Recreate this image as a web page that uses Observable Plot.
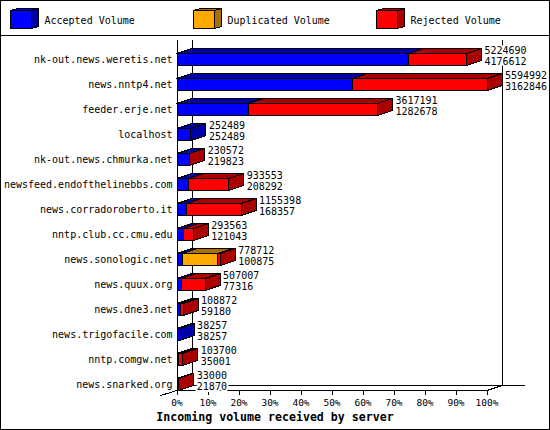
<!DOCTYPE html>
<html>
<head>
<meta charset="utf-8">
<script src="https://cdn.jsdelivr.net/npm/d3@7"></script>
<script src="https://cdn.jsdelivr.net/npm/@observablehq/plot@0.6"></script>
<style>
  html, body { margin: 0; padding: 0; background: #fff; }
  #box { position: relative; width: 550px; height: 430px; background: #fff; outline: 1px solid #000; outline-offset: -1px; overflow: hidden;
         font-family: "DejaVu Sans Mono", monospace; color: #000; }
  #legend { position: absolute; left: 0; top: 0; width: 550px; height: 36px; box-sizing: border-box; border-bottom: 1px solid #000; }
  .lg { position: absolute; top: 8px; height: 22px; }
  .lg svg { position: absolute; left: 0; top: 0; shape-rendering: crispEdges; }
  .lg span { position: absolute; left: 34.5px; top: 7px; font-size: 10px; line-height: 12px; white-space: nowrap; }
  #chart { position: absolute; left: 0; top: 36px; }
  #chart svg { background: transparent; overflow: visible; }
  #caption { position: absolute; left: 0; width: 550px; top: 410px; text-align: center; font-weight: bold; font-size: 11.6px; line-height: 14px; }
</style>
</head>
<body>
<div id="box">
  <div id="legend"></div>
  <div id="chart"></div>
  <div id="caption"></div>
</div>
<script>
const servers = ["nk-out.news.weretis.net","news.nntp4.net","feeder.erje.net","localhost","nk-out.news.chmurka.net","newsfeed.endofthelinebbs.com","news.corradoroberto.it","nntp.club.cc.cmu.edu","news.sonologic.net","news.quux.org","news.dne3.net","news.trigofacile.com","nntp.comgw.net","news.snarked.org"];
const totalVolume = [5224690,5594992,3617191,252489,230572,933553,1155398,293563,778712,507007,108872,38257,103700,33000];
const acceptedVolume = [4176612,3162846,1282678,252489,219823,208292,168357,121043,100875,77316,59180,38257,35001,21870];
const duplicatedVolume = [0,0,0,0,0,0,0,0,634000,0,0,0,0,0];
const percentTicks = [0,10,20,30,40,50,60,70,80,90,100];
const legendNames = ["Accepted Volume","Duplicated Volume","Rejected Volume"];
const frontColors = ["#0000ff","#ffaa00","#ff0000"];
const darkColors = ["#0000aa","#aa7100","#aa0000"];
const captionText = "Incoming volume received by server";

const maxVolume = d3.max(totalVolume);
const pct = v => v / maxVolume * 100;
const barH = 0.48, depthX = 15 / 3.1, depthY = 0.2;

// one closed polygon per bar face, in data units, drawn through the scales
const faces = [];
let id = 0;
const addFace = (pts, fill) => { id++; pts.forEach(([x, y]) => faces.push({x, y, fill, id})); };
servers.forEach((s, i) => {
  const bottom = i + 1, top = bottom - barH;
  const acc = acceptedVolume[i], dup = duplicatedVolume[i], rej = totalVolume[i] - acc - dup;
  let start = 0;
  let lastColor = 0;
  [acc, dup, rej].forEach((v, k) => {
    if (v <= 0) return;
    const a = pct(start), b = pct(start + v);
    addFace([[a, top], [b, top], [b + depthX, top - depthY], [a + depthX, top - depthY]], darkColors[k]);
    addFace([[a, bottom], [b, bottom], [b, top], [a, top]], frontColors[k]);
    start += v; lastColor = k;
  });
  const e = pct(start);
  addFace([[e, bottom], [e + depthX, bottom - depthY], [e + depthX, top - depthY], [e, top]], darkColors[lastColor]);
});

const labelRows = servers.flatMap((s, i) => [
  {x: pct(totalVolume[i]) + depthX, y: i + 0.43, t: String(totalVolume[i])},
  {x: pct(totalVolume[i]) + depthX, y: i + 0.87, t: String(acceptedVolume[i])}
]);

const mono = "DejaVu Sans Mono";
const chart = Plot.plot({
  width: 550, height: 394,
  marginTop: 4, marginBottom: 40, marginLeft: 176.5, marginRight: 63.5,
  x: {domain: [0, 100], range: [176.5, 486.5]},
  y: {domain: [0, 14], range: [4, 354], axis: null},
  style: {background: "transparent", fontFamily: mono, shapeRendering: "crispEdges"},
  marks: [
    Plot.ruleX([depthX, 100 + depthX], {y1: 0, y2: 14 - depthY, stroke: "#000", strokeWidth: 1}),
    Plot.ruleY([14 - depthY], {x1: depthX, x2: 112.5, stroke: "#000", strokeWidth: 1}),
    Plot.ruleY([14], {x1: 0, x2: 100, stroke: "#000", strokeWidth: 1}),
    Plot.ruleX([0], {y1: 0, y2: 14, stroke: "#000", strokeWidth: 1}),
    Plot.line([[-5.2, 14 + depthY], [depthX, 14 - depthY]], {x: d => d[0], y: d => d[1], stroke: "#000", strokeWidth: 1, shapeRendering: "auto"}),
    Plot.line([[100, 14], [100 + depthX, 14 - depthY]], {x: d => d[0], y: d => d[1], stroke: "#000", strokeWidth: 1, shapeRendering: "auto"}),
    Plot.axisX({ticks: percentTicks, tickFormat: d => d + "%", tickSize: 5, tickPadding: 4, fontSize: 9.5, label: null, stroke: "#000", fill: "#000", strokeOpacity: 1, fontFamily: mono}),
    Plot.text(servers, {x: 0, y: (d, i) => i + 1 - barH / 2, text: d => d, textAnchor: "end", dx: -4.5, fontSize: 10, fill: "#000", fontFamily: mono}),
    Plot.line(faces, {x: "x", y: "y", z: "id", fill: "fill", stroke: "#000", strokeWidth: 1, curve: "linear-closed"}),
    Plot.text(labelRows, {x: "x", y: "y", text: "t", textAnchor: "start", dx: 3, fontSize: 10, fill: "#000", stroke: "#fff", strokeWidth: 4, paintOrder: "stroke", fontFamily: mono})
  ]
});
chart.querySelectorAll("text").forEach(t => t.style.shapeRendering = "auto");
document.getElementById("chart").appendChild(chart);
document.getElementById("caption").textContent = captionText;

const legendLefts = [10, 193, 376];
const legend = document.getElementById("legend");
legendNames.forEach((name, k) => {
  const item = document.createElement("div");
  item.className = "lg";
  item.style.left = legendLefts[k] + "px";
  item.innerHTML = `<svg width="30" height="22">
    <polygon points="0.5,2.5 7.5,0.5 28.5,0.5 21.5,2.5" fill="${darkColors[k]}" stroke="#000"/>
    <polygon points="21.5,2.5 28.5,0.5 28.5,18.5 21.5,20.5" fill="${darkColors[k]}" stroke="#000"/>
    <rect x="0.5" y="2.5" width="21" height="18" fill="${frontColors[k]}" stroke="#000"/>
  </svg><span>${name}</span>`;
  legend.appendChild(item);
});
</script>
</body>
</html>
